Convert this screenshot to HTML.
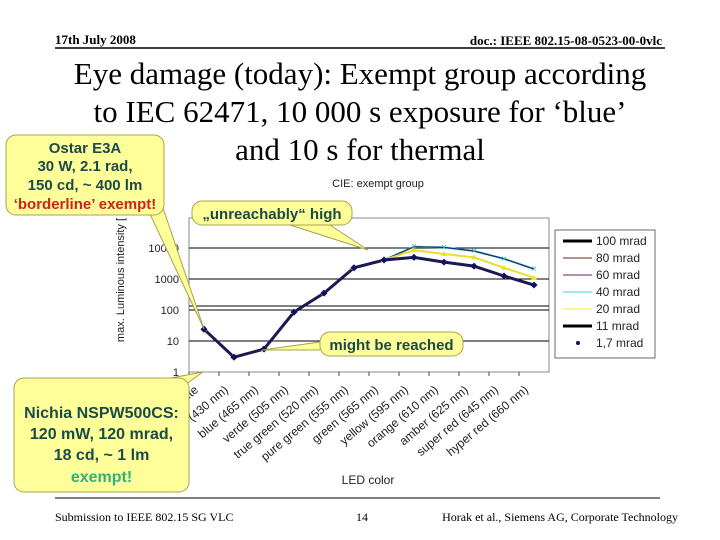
<!DOCTYPE html>
<html><head><meta charset="utf-8"><style>
body{margin:0;width:720px;height:540px;background:#fff;overflow:hidden;font-family:"Liberation Sans",sans-serif}
svg{position:absolute;left:0;top:0}
</style></head><body>
<svg width="720" height="540" id="s">
<text x="55" y="44" font-family="Liberation Serif" font-weight="bold" font-size="13">17th July 2008</text>
<text x="662" y="45" text-anchor="end" font-family="Liberation Serif" font-weight="bold" font-size="13">doc.: IEEE 802.15-08-0523-00-0vlc</text>
<line x1="55" y1="48" x2="665" y2="48" stroke="#000" stroke-width="1.5"/>
<g font-family="Liberation Serif" font-size="31" text-anchor="middle">
<text x="360" y="84">Eye damage (today): Exempt group according</text>
<text x="360" y="122">to IEC 62471, 10 000 s exposure for ‘blue’</text>
<text x="360" y="160">and 10 s for thermal</text>
</g>
<text x="378" y="187" text-anchor="middle" font-size="11" fill="#222">CIE: exempt group</text>
<rect x="555" y="230" width="100" height="128" fill="#fff" stroke="#444" stroke-width="0.8"/>
<g id="grid"></g><g id="plot"></g><g id="legend"></g>
<text transform="translate(124,280) rotate(-90)" text-anchor="middle" font-size="11" fill="#222">max. Luminous intensity [</text>
<text x="368" y="484" text-anchor="middle" font-size="12" fill="#222">LED color</text>
<g id="callouts"></g>
<line x1="55" y1="498" x2="660" y2="498" stroke="#000" stroke-width="1"/>
<text x="55" y="521" font-family="Liberation Serif" font-size="12">Submission to IEEE 802.15 SG VLC</text>
<text x="362" y="521" text-anchor="middle" font-family="Liberation Serif" font-size="12">14</text>
<text x="678" y="521" text-anchor="end" font-family="Liberation Serif" font-size="12">Horak et al., Siemens AG, Corporate Technology</text>
</svg>
<script>
const categories=["white","royal blue (430 nm)","blue (465 nm)","verde (505 nm)","true green (520 nm)","pure green (555 nm)","green (565 nm)","yellow (595 nm)","orange (610 nm)","amber (625 nm)","super red (645 nm)","hyper red (660 nm)"];
const yTicks=[1,10,100,1000,10000];
const yTickLabels=["1","10","100","1000","10000"];
const lowValues=[24,3,5.5,86,350,2300,4100,5000,3500,2600,1250,640];
const highValues=[24,3,5.5,86,350,2300,4100,11000,10500,8000,4500,2100];
const yellowValues=[24,3,5.5,86,350,2300,4100,8500,6400,5000,2300,1100];
const seriesNames=["100 mrad","80 mrad","60 mrad","40 mrad","20 mrad","11 mrad","1,7 mrad"];
const NS="http://www.w3.org/2000/svg";
const X0=189,X1=549,Y0=372,DEC=31;
function xs(i){return X0+(i+0.5)*(X1-X0)/categories.length;}
function ys(v){return Y0-DEC*Math.log10(v);}
function mk(t,a,p){const e=document.createElementNS(NS,t);for(const k in a)e.setAttribute(k,a[k]);(p||document.getElementById('s')).appendChild(e);return e;}
const grid=document.getElementById('grid'),plot=document.getElementById('plot'),leg=document.getElementById('legend'),co=document.getElementById('callouts');
let pa=mk('rect',{x:X0,y:218,width:X1-X0,height:Y0-218,fill:'#fff',stroke:'#888','stroke-width':1},grid);

yTicks.forEach((v,i)=>{
 if(i>0){let g=mk('line',{x1:X0,x2:X1,y1:ys(v),y2:ys(v),stroke:'#000','stroke-width':1},grid);
 }
 let t=mk('text',{x:X0-10,y:ys(v)+4,'text-anchor':'end','font-size':11,fill:'#222'},grid);t.textContent=yTickLabels[i];
 
});
let dl=mk('line',{x1:X0,x2:X1,y1:ys(100)-4,y2:ys(100)-4,stroke:'#000','stroke-width':1},grid);

categories.forEach((c,i)=>{
 let tk=mk('line',{x1:xs(i)-15,x2:xs(i)-15,y1:Y0,y2:Y0+4,stroke:'#444'},grid);
 
 let t=mk('text',{transform:`translate(${xs(i)-5},${Y0+19}) rotate(-40)`,'text-anchor':'end','font-size':12,fill:'#222'},grid);t.textContent=c;
 
});
function line(vals,col,w,name){let p=mk('polyline',{points:vals.map((v,i)=>xs(i)+','+ys(v)).join(' '),fill:'none',stroke:col,'stroke-width':w},plot);
 }
line(highValues,'#40c8d8',2,'line-40-mrad');
line(highValues,'#602060',1,'line-60-mrad');
line(highValues,'#1a2a6a',1,'line-100-mrad');
line(yellowValues,'#e8e030',2,'line-20-mrad');
line(lowValues,'#1a1a50',3,'line-11-mrad');
highValues.forEach((v,i)=>{let m=mk('text',{x:xs(i),y:ys(v)+3,'text-anchor':'middle','font-size':10,fill:'#30b0c0'},plot);m.textContent='×';
 });
yellowValues.forEach((v,i)=>{let m=mk('polygon',{points:`${xs(i)-3},${ys(v)+2} ${xs(i)+3},${ys(v)+2} ${xs(i)},${ys(v)-3}`,fill:'#f0e020'},plot);
 });
lowValues.forEach((v,i)=>{let m=mk('rect',{x:xs(i)-2.5,y:ys(v)-2.5,width:5,height:5,fill:'#101060',transform:`rotate(45 ${xs(i)} ${ys(v)})`},plot);
 });
const legCols=['#000','#702020','#602060','#40d0e0','#f0f020','#000','#fff'];
const legW=[3,1,1,1,1,3,0];
seriesNames.forEach((n,i)=>{const y=241+i*17;
 let l=mk('line',{x1:563,x2:592,y1:y,y2:y,stroke:legCols[i],'stroke-width':legW[i]||0.1},leg);
 
 if(i==6){let d=mk('circle',{cx:578,cy:y,r:2,fill:'#101060'},leg);}
 let t=mk('text',{x:596,y:y+4,'font-size':12,fill:'#222'},leg);t.textContent=n;
 
});
function callout(x,y,w,h,tip,b1,b2,lines,name,fs){
 let p=mk('path',{d:`M${b1[0]},${b1[1]} L${tip[0]},${tip[1]} L${b2[0]},${b2[1]}`,fill:'#ffff99',stroke:'#a8a050','stroke-width':1},co);
 
 let r=mk('rect',{x,y,width:w,height:h,rx:10,fill:'#ffff99',stroke:'#a8a050','stroke-width':1},co);
 
 lines.forEach((ln,i)=>{let t=mk('text',{x:x+w/2,y:y+ln[2],'text-anchor':'middle','font-size':fs,'font-weight':'bold',fill:ln[1]},co);t.textContent=ln[0];
 });
}
callout(6,135,158,80,[204,329],[150,214],[162,205],[["Ostar E3A","#1a4a4a",18],["30 W, 2.1 rad,","#1a4a4a",36],["150 cd, ~ 400 lm","#1a4a4a",55],["‘borderline’ exempt!","#d02020",74]],'ostar-callout',15);
callout(14,378,175,114,[203,372],[160,380],[178,390],[["Nichia NSPW500CS:","#1a4a4a",40],["120 mW, 120 mrad,","#1a4a4a",61],["18 cd, ~ 1 lm","#1a4a4a",82],["exempt!","#30b080",104]],'nichia-callout',16);
callout(192,201,160,24,[368,250],[290,225],[330,225],[["„unreachably“ high","#1a4a4a",18]],'unreachable-callout',15);
callout(320,332,143,24,[262,350],[320,342],[320,350],[["might be reached","#1a4a4a",18]],'reachable-callout',15);
</script>
</body></html>
